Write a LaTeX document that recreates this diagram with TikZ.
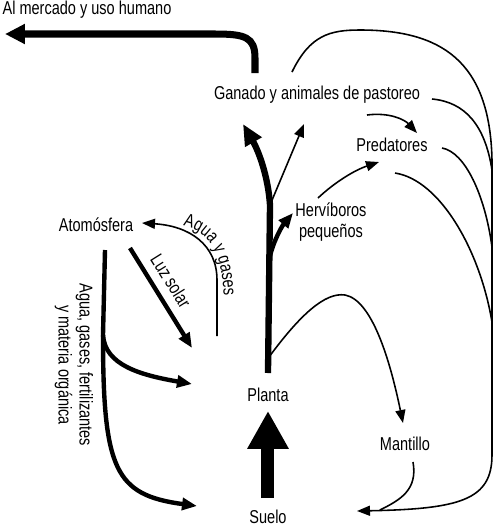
\documentclass[tikz,border=0pt]{standalone}
\usepackage{fontspec}
\setmainfont[FakeStretch=0.78]{Liberation Sans}
\usetikzlibrary{arrows.meta,decorations.text}
\newcommand{\lbl}{\fontsize{10.6}{12}\selectfont}

\begin{document}
\begin{tikzpicture}[x=0.02cm,y=-0.02cm,
	every node/.style={font=\lbl,inner sep=1pt},
	feed/.style={line width=0.9pt},
	link/.style={feed,-{Triangle[length=0.26cm,width=0.2cm]}},
	strong/.style={line width=2.5pt,-{Triangle[length=0.3cm,width=0.24cm]}},
	stem/.style={line width=3.6pt,-{Triangle[length=0.42cm,width=0.36cm]}},
	market/.style={line width=4pt,-{Triangle[length=0.4cm,width=0.38cm]}},
	block/.style={line width=7.4pt,-{Triangle[length=0.76cm,width=0.78cm]}}]
	\useasboundingbox (0,0) rectangle (496,529);
	% places
	\node (mercado) at (87,10) {Al mercado y uso humano};
	\node (ganado) at (317,95) {Ganado y animales de pastoreo};
	\node (predatores) at (392,145) {Predatores};
	\node[align=center] (herbivoros) at (331,222) {Herv\'iboros\\peque\~nos};
	\node (atmosfera) at (96,225) {Atom\'osfera};
	\node (planta) at (268,395) {Planta};
	\node (mantillo) at (405,444) {Mantillo};
	\node (suelo) at (268,517) {Suelo};
	% labels on the flows
	\node[rotate=-58] (luz) at (171,281) {Luz solar};
	\node[rotate=-90,align=center] (aportes) at (74,365) {Agua, gases, fertilizantes\\y materia org\'anica};
	\path[decorate,decoration={text along path,text={|\lbl|Agua y gases}}] (183,226) .. controls (207,231) and (224,250) .. (224,305);
	% ends and forks
	\coordinate (tomkt) at (5,34);
	\coordinate (mktstart) at (255,73);
	\coordinate (loopstart) at (292,72);
	\coordinate (rim) at (492,160);
	\coordinate (soil) at (357,511);
	\coordinate (stembase) at (268,373);
	\coordinate (fork) at (270,205);
	\coordinate (stemtop) at (243,124);
	\coordinate (branchtop) at (304,124);
	\coordinate (hfork) at (270,256);
	\coordinate (htip) at (293,213);
	\coordinate (mulchfork) at (269,357);
	\coordinate (mulchtip) at (403,423);
	\coordinate (sunstart) at (130,248);
	\coordinate (sunend) at (192,348);
	\coordinate (vapour) at (217,336);
	\coordinate (vapourtip) at (142,223);
	\coordinate (inputs) at (105,250);
	\coordinate (split) at (103,335);
	\coordinate (feedend) at (192,384);
	\coordinate (soilin) at (197,506);
	% plant upwards
	\draw[block,shorten <=0.2cm,shorten >=0.14cm] (suelo.north) -- (planta.south);
	\draw[stem] (stembase) -- (fork) .. controls (268,175) and (258,150) .. (stemtop);
	\draw[link] (fork) -- (branchtop);
	\draw[strong] (hfork) .. controls (274,240) and (282,226) .. (htip);
	\draw[market] (mktstart) -- (255,58) .. controls (255,37) and (245,34) .. (215,34) -- (tomkt);
	% animals
	\draw[link] (367,115) .. controls (390,112) and (405,120) .. (417,133);
	\draw[link] (318,198) .. controls (335,182) and (355,170) .. (379,162);
	% back to the soil
	\draw[link] (loopstart) .. controls (310,35) and (330,30) .. (360,30) .. controls (440,30) and (490,60) .. (rim) -- (492,455) .. controls (492,500) and (460,509) .. (soil);
	\draw[feed] (432,99) .. controls (465,102) and (485,125) .. (492,170);
	\draw[feed] (442,148) .. controls (465,152) and (485,195) .. (492,247);
	\draw[feed] (395,173) .. controls (440,180) and (480,250) .. (492,322);
	\draw[link] (mulchfork) .. controls (300,315) and (325,292) .. (345,295) .. controls (372,300) and (390,360) .. (mulchtip);
	\draw[feed] (413,462) .. controls (418,490) and (400,500) .. (380,510);
	% from the atmosphere
	\draw[strong] (sunstart) -- (sunend);
	\draw[link] (vapour) -- (217,280) .. controls (217,245) and (190,226) .. (vapourtip);
	\draw[strong,-] (inputs) -- (split);
	\draw[strong] (split) .. controls (105,365) and (140,375) .. (feedend);
	\draw[strong] (split) .. controls (103,470) and (115,495) .. (soilin);
\end{tikzpicture}
\end{document}
